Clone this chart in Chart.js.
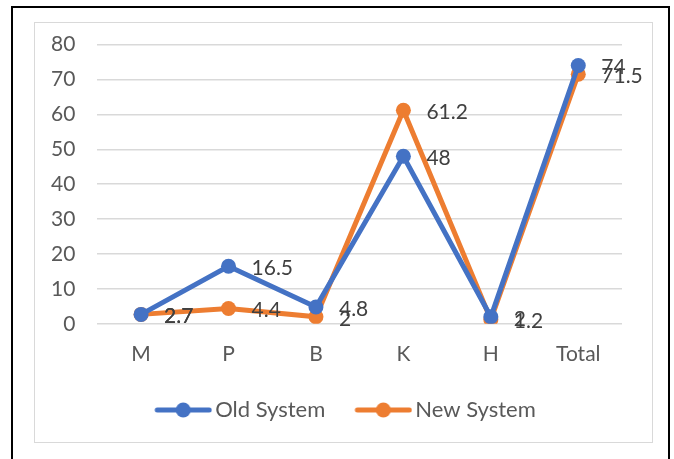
<!DOCTYPE html>
<html><head><meta charset="utf-8">
<script src="https://cdn.jsdelivr.net/npm/chart.js@4"></script>
<style>
html,body{margin:0;padding:0;background:#fff;width:674px;height:459px;overflow:hidden;}
#outer{position:absolute;left:11px;top:6px;width:655px;height:470px;border:2px solid #000;}
#inner{position:absolute;left:34px;top:22px;width:617px;height:419px;border:1px solid #d9d9d9;}
#wrap{position:absolute;left:29px;top:10px;width:623px;height:432px;}
</style></head>
<body>
<div id="outer"></div>
<div id="inner"></div>
<div id="wrap"><canvas id="c" width="623" height="432"></canvas></div>
<script>
const categories = ["M","P","B","K","H","Total"];
const oldSystem = [2.7, 16.5, 4.8, 48, 2, 74];
const newSystem = [2.7, 4.4, 2, 61.2, 1.2, 71.5];
const yTicks = [0,10,20,30,40,50,60,70,80];

const BLUE = "#4472C4", ORANGE = "#ED7D31";
const FONT = "Lato, 'Open Sans', sans-serif";

// legend icon: transparent left margin so items spread like the reference
const ICON_MARGIN = 27;
function legendIcon(color){
  const cv = document.createElement('canvas');
  cv.width = 58 + ICON_MARGIN; cv.height = 16;
  const g = cv.getContext('2d');
  const o = ICON_MARGIN;
  g.strokeStyle = color; g.lineWidth = 5; g.lineCap = 'round';
  g.beginPath(); g.moveTo(o+3,8); g.lineTo(o+55,8); g.stroke();
  g.fillStyle = color; g.beginPath(); g.arc(o+29,8,7.5,0,Math.PI*2); g.fill();
  return cv;
}

const labelPlugin = {
  id:'valueLabels',
  afterUpdate(chart){
    // nudge legend to the right to match the reference placement
    if (chart.legend) { chart.legend.left += 10; chart.legend.right += 10; }
  },
  afterDatasetsDraw(chart){
    const ctx = chart.ctx;
    ctx.save();
    ctx.font = "21px " + FONT;
    ctx.fillStyle = "#404040";
    ctx.textAlign = "left";
    ctx.textBaseline = "middle";
    chart.data.datasets.forEach((ds, i) => {
      const meta = chart.getDatasetMeta(i);
      meta.data.forEach((pt, j) => {
        ctx.fillText(String(ds.data[j]), pt.x + 23, pt.y + 2);
      });
    });
    ctx.restore();
  }
};

new Chart(document.getElementById('c'), {
  type:'line',
  data:{
    labels: categories,
    datasets:[
      {label:"Old System", data: oldSystem, borderColor: BLUE, backgroundColor: BLUE,
       borderWidth:5, pointRadius:7.5, pointHoverRadius:7.5, pointBackgroundColor:BLUE, pointBorderWidth:0, tension:0},
      {label:"New System", data: newSystem, borderColor: ORANGE, backgroundColor: ORANGE,
       borderWidth:5, pointRadius:7.5, pointHoverRadius:7.5, pointBackgroundColor:ORANGE, pointBorderWidth:0, tension:0}
    ]
  },
  options:{
    responsive:false, animation:false, devicePixelRatio:1,
    layout:{padding:{left:0,right:30,top:0,bottom:11}},
    scales:{
      x:{offset:true, grid:{display:false}, border:{display:false},
         afterFit(scale){ scale.height += 12; },
         ticks:{color:"#595959", font:{size:21, family:FONT}, padding:10}},
      y:{min:0, max:80, afterBuildTicks(axis){ axis.ticks = yTicks.map(v=>({value:v})); },
         grid:{color:"#d9d9d9", lineWidth:1.5, drawTicks:false}, border:{display:false},
         ticks:{color:"#595959", font:{size:21, family:FONT}, padding:22}}
    },
    plugins:{
      tooltip:{enabled:false},
      legend:{position:'bottom',
        labels:{usePointStyle:true, pointStyleWidth:69, color:"#595959", font:{size:22, family:FONT}, padding:10,
          generateLabels(chart){
            return chart.data.datasets.map((ds,i)=>({
              text: ds.label, fillStyle: ds.borderColor, strokeStyle: ds.borderColor,
              pointStyle: legendIcon(ds.borderColor), datasetIndex:i, hidden:false, lineWidth:0,
              fontColor:"#595959"
            }));
          }}
      }
    }
  },
  plugins:[labelPlugin]
});
</script>
</body></html>
